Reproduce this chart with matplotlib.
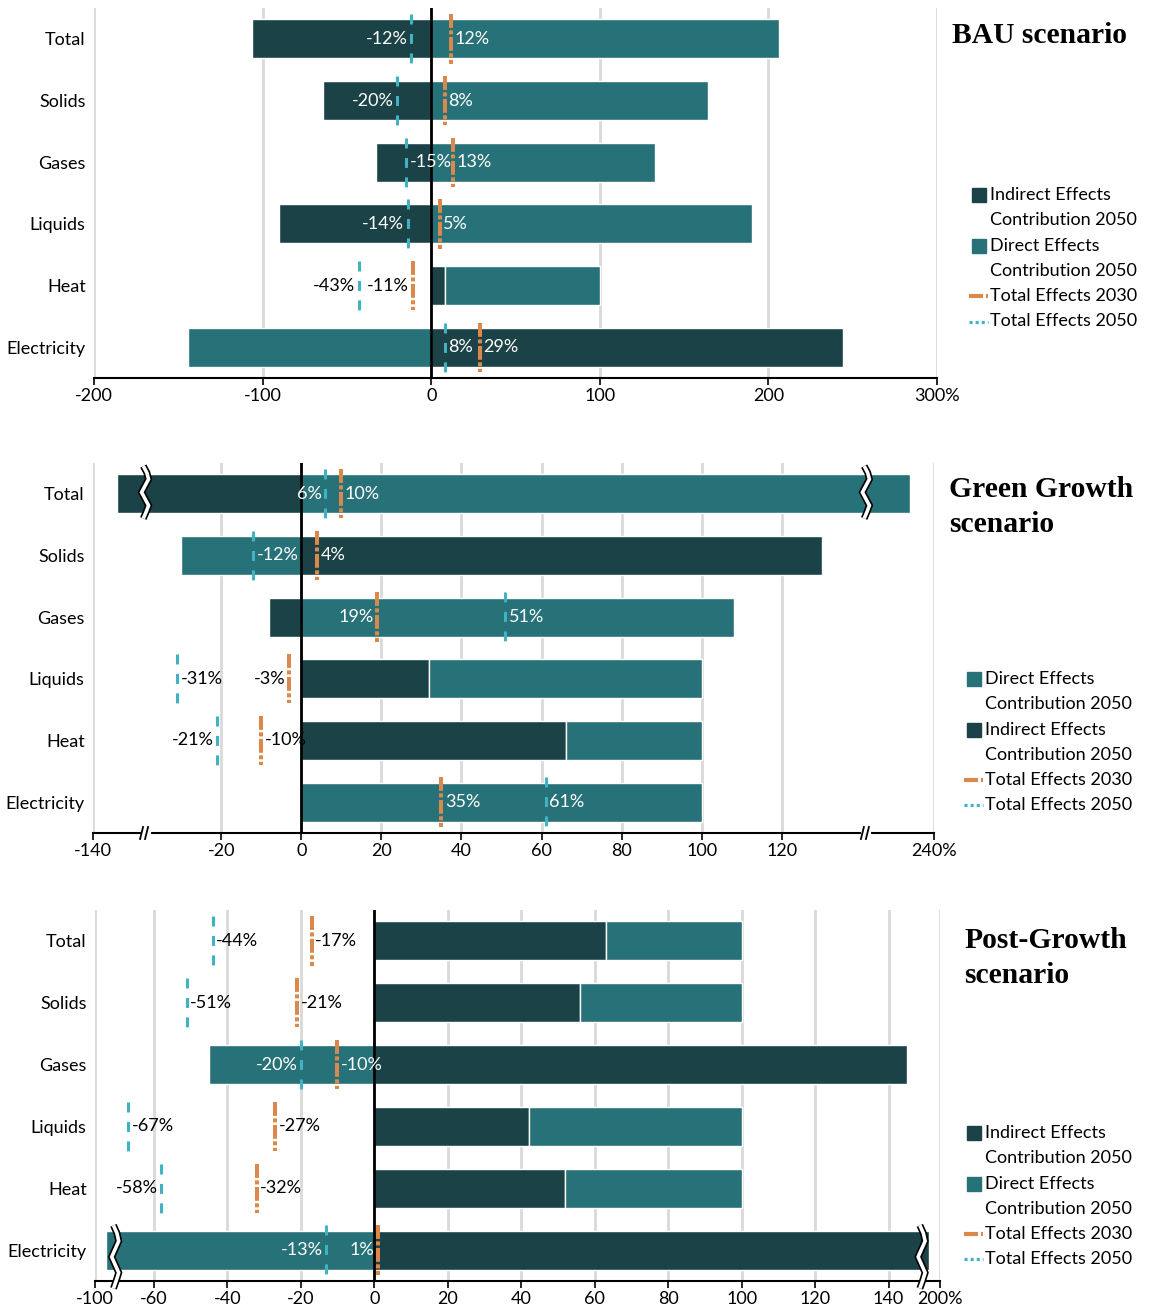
import numpy as np
import matplotlib
matplotlib.use("Agg")
import matplotlib.pyplot as plt
from matplotlib.patches import Rectangle
from matplotlib.lines import Line2D

# ---------------------------------------------------------------- data
categories = ["Total", "Solids", "Gases", "Liquids", "Heat", "Electricity"]

# Business-as-usual
bau_indirect = [-106, -64, -33, -90, 8, 244]
bau_direct = [206, 164, 133, 190, 92, -144]
bau_total_2030 = [12, 8, 13, 5, -11, 29]
bau_total_2050 = [-12, -20, -15, -14, -43, 8]
bau_ticks = [-200, -100, 0, 100, 200, 300]

# Green Growth
gg_indirect = [-134, 130, -8, 32, 66, 0]
gg_direct = [234, -30, 108, 68, 34, 100]
gg_total_2030 = [10, 4, 19, -3, -10, 35]
gg_total_2050 = [6, -12, 51, -31, -21, 61]
gg_ticks = [-140, -20, 0, 20, 40, 60, 80, 100, 120, 240]

# Post-Growth
pg_indirect = [63, 56, 145, 42, 52, 197]
pg_direct = [37, 44, -45, 58, 48, -97]
pg_total_2030 = [-17, -21, -10, -27, -32, 1]
pg_total_2050 = [-44, -51, -20, -67, -58, -13]
pg_ticks = [-100, -60, -40, -20, 0, 20, 40, 60, 80, 100, 120, 140, 200]

# ---------------------------------------------------------------- style
DARK = "#1a4247"
TEAL = "#277179"
ORANGE = "#db884c"
CYAN = "#40b2c2"
GRID = "#d9d9d9"
W, H = 1153, 1313

plt.rcParams["font.family"] = ["Lato", "DejaVu Sans"]
plt.rcParams["lines.scale_dashes"] = False
FS = 13

DASH_2030 = (0, (10, 1.8, 2.9, 1.8))
DASH_2050 = (0, (7.2, 6.8))

# which side of its marker each value label sits on
bau_side_2030 = ["R", "R", "R", "R", "L", "R"]
bau_side_2050 = ["L", "L", "R", "L", "L", "R"]
gg_side_2030 = ["R", "R", "L", "L", "R", "R"]
gg_side_2050 = ["L", "R", "R", "R", "L", "R"]
pg_side_2030 = ["R", "R", "R", "R", "R", "L"]
pg_side_2050 = ["R", "R", "L", "R", "L", "L"]

fig = plt.figure(figsize=(W / 100, H / 100), dpi=100)


def axes_px(l, t, r, b):
    return fig.add_axes([l / W, 1 - b / H, (r - l) / W, (b - t) / H])


def broken_scale(ax, left_gap, right_gap):
    """Collapse the value ranges left_gap and right_gap onto single points."""
    eps = 1e-3
    va, vb = left_gap
    vc, vd = right_gap
    v_pts = np.array([-1e4, va, vb, vc, vd, 1e4])
    p_pts = np.array([-1e4 + (vb - va) - eps, vb - eps, vb, vc, vc + eps,
                      1e4 - (vd - vc) + eps])
    fwd = lambda v: np.interp(v, v_pts, p_pts)
    inv = lambda p: np.interp(p, p_pts, v_pts)
    ax.set_xscale("function", functions=(fwd, inv))
    return fwd, inv


def draw_panel(ax, indirect, direct, t2030, t2050, s2030, s2050, ticks, xlim):
    y = np.arange(len(categories))
    ind = np.asarray(indirect, float)
    dr = np.asarray(direct, float)
    dir_left = np.where(np.sign(dr) == np.sign(ind), ind, 0.0)
    bh = 0.63
    ax.barh(y, ind, height=bh, color=DARK, edgecolor="white", linewidth=1, zorder=2)
    ax.barh(y, dr, left=dir_left, height=bh, color=TEAL, edgecolor="white",
            linewidth=1, zorder=2)
    ax.axvline(0, color="black", lw=2, zorder=3)

    lo = np.minimum.reduce([np.zeros_like(ind), ind, dir_left, dir_left + dr])
    hi = np.maximum.reduce([np.zeros_like(ind), ind, dir_left, dir_left + dr])

    for i in range(len(categories)):
        ax.plot([t2030[i], t2030[i]], [i - 0.4, i + 0.4], color=ORANGE, lw=2.9,
                linestyle=DASH_2030, solid_capstyle="butt", dash_capstyle="butt",
                zorder=4)
        ax.plot([t2050[i], t2050[i]], [i - 0.4, i + 0.4], color=CYAN, lw=2.2,
                linestyle=DASH_2050, solid_capstyle="butt", dash_capstyle="butt",
                zorder=4)
        for val, side in ((t2030[i], s2030[i]), (t2050[i], s2050[i])):
            col = "white" if lo[i] <= val <= hi[i] else "black"
            dx = 2.5 if side == "R" else -2.5
            ax.annotate(f"{val}%", xy=(val, i), xytext=(dx, 0),
                        textcoords="offset points",
                        ha="left" if side == "R" else "right", va="center",
                        color=col, fontsize=FS, zorder=6)

    ax.set_xlim(*xlim)
    ax.set_ylim(len(categories) - 0.5, -0.5)
    ax.set_yticks(y)
    ax.set_yticklabels(categories)
    ax.set_xticks(ticks)
    ax.set_xticklabels([str(t) for t in ticks[:-1]] + [f"{ticks[-1]}%"])
    ax.grid(axis="x", color=GRID, lw=2)
    ax.set_axisbelow(True)
    for s in ("top", "right", "left"):
        ax.spines[s].set_visible(False)
    ax.spines["bottom"].set_linewidth(1.5)
    ax.tick_params(axis="x", direction="out", length=5, width=1.2,
                   labelsize=FS, pad=2)
    ax.tick_params(axis="y", length=0, labelsize=FS, pad=6)


def zigzag(ax, p0, y0, y1, inv, px_per_unit, clip=True):
    amp = 3.5 / px_per_unit
    ys = np.linspace(y0, y1, 9)
    offs = np.array([-0.5, 0.5, 1, 0, -1, 0, 1, 0.3, -0.5]) * amp
    xs = inv(p0 + offs)
    ax.plot(xs, ys, color="black", lw=5.0, zorder=7, clip_on=clip,
            solid_joinstyle="miter", solid_capstyle="butt")
    ax.plot(xs, ys, color="white", lw=2.6, zorder=8, clip_on=clip,
            solid_joinstyle="miter", solid_capstyle="butt")


def axis_break(ax, p0, inv, px_per_unit, ax_h_px):
    tr = ax.get_xaxis_transform()
    u = 1.0 / px_per_unit
    dy = 6.0 / ax_h_px
    ax.plot(inv(np.array([p0 - 2.5 * u, p0 + 3.5 * u])), [0, 0], color="white",
            lw=3, transform=tr, clip_on=False, zorder=7)
    for dx in (-3.5, 1.5):
        xs = inv(np.array([p0 + (dx - 1.5) * u, p0 + (dx + 1.5) * u]))
        ax.plot(xs, [-dy, dy], color="black", lw=1.3, transform=tr,
                clip_on=False, zorder=8)


def legend(entries, x_handle, x_text, y_first):
    y = y_first
    for kind, color, lines in entries:
        fy = 1 - y / H
        if kind == "patch":
            fig.add_artist(Rectangle((x_handle / W, 1 - (y + 7) / H), 14 / W, 14 / H,
                                     transform=fig.transFigure, color=color))
        elif kind == "2030":
            fig.add_artist(Line2D([(x_handle - 3) / W, (x_handle + 11) / W], [fy, fy],
                                  transform=fig.transFigure, color=color, lw=3,
                                  solid_capstyle="butt"))
            fig.add_artist(Line2D([(x_handle + 14) / W, (x_handle + 16) / W], [fy, fy],
                                  transform=fig.transFigure, color=color, lw=3,
                                  solid_capstyle="butt"))
        else:
            fig.add_artist(Line2D([(x_handle - 3) / W, (x_handle + 16) / W], [fy, fy],
                                  transform=fig.transFigure, color=color, lw=2.3,
                                  linestyle=(0, (2.2, 2.2)), dash_capstyle="butt"))
        for ln in lines:
            fig.text(x_text / W, 1 - y / H, ln, ha="left", va="center", fontsize=FS)
            y += 25.3


def title(lines, x, baselines):
    for ln, b in zip(lines, baselines):
        fig.text(x / W, 1 - b / H, ln, ha="left", va="baseline", fontsize=21.3,
                 fontweight="bold", family="Liberation Serif")


IND = ("patch", DARK, ["Indirect Effects", "Contribution 2050"])
DIR = ("patch", TEAL, ["Direct Effects", "Contribution 2050"])
T30 = ("2030", ORANGE, ["Total Effects 2030"])
T50 = ("2050", CYAN, ["Total Effects 2050"])

# ---------------------------------------------------------------- BAU
ax1 = axes_px(94, 8, 937, 378)
draw_panel(ax1, bau_indirect, bau_direct, bau_total_2030, bau_total_2050,
           bau_side_2030, bau_side_2050, bau_ticks, (-200, 300))
title(["BAU scenario"], 952, [43])
legend([IND, DIR, T30, T50], 972, 990, 195)

# ---------------------------------------------------------------- Green Growth
ax2 = axes_px(93, 463, 934, 833)
fwd2, inv2 = broken_scale(ax2, (-127, -39), (141, 223))
draw_panel(ax2, gg_indirect, gg_direct, gg_total_2030, gg_total_2050,
           gg_side_2030, gg_side_2050, gg_ticks, (-140, 240))
ppu2 = 841 / (fwd2(240) - fwd2(-140))
zigzag(ax2, -39, -0.45, 0.4, inv2, ppu2)
zigzag(ax2, 141, -0.45, 0.4, inv2, ppu2)
axis_break(ax2, -39, inv2, ppu2, 370)
axis_break(ax2, 141, inv2, ppu2, 370)
title(["Green Growth", "scenario"], 949, [497, 532])
legend([DIR, IND, T30, T50], 967, 985, 679)

# ---------------------------------------------------------------- Post-Growth
ax3 = axes_px(95, 910, 940, 1281)
fwd3, inv3 = broken_scale(ax3, (-94.5, -70.5), (149, 195))
draw_panel(ax3, pg_indirect, pg_direct, pg_total_2030, pg_total_2050,
           pg_side_2030, pg_side_2050, pg_ticks, (-100, 200))
ppu3 = 845 / (fwd3(200) - fwd3(-100))
zigzag(ax3, -70.5, 4.6, 5.62, inv3, ppu3, clip=False)
zigzag(ax3, 149, 4.6, 5.62, inv3, ppu3, clip=False)
title(["Post-Growth", "scenario"], 964, [948, 983])
legend([IND, DIR, T30, T50], 967, 985, 1133)

fig.savefig("out.png", dpi=100)
